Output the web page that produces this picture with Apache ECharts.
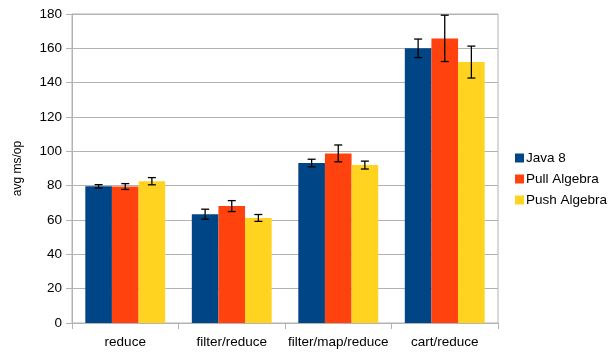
<!DOCTYPE html>
<html>
<head>
<meta charset="utf-8">
<script src="https://cdn.jsdelivr.net/npm/echarts@6/dist/echarts.min.js"></script>
<style>
  html, body { margin: 0; padding: 0; background: #fff; }
  #chart { width: 610px; height: 354px; }
</style>
</head>
<body>
<div id="chart"></div>
<script>
// Benchmark: average time per operation for each stream pipeline
const categories = ['reduce', 'filter/reduce', 'filter/map/reduce', 'cart/reduce'];
const seriesNames = ['Java 8', 'Pull Algebra', 'Push Algebra'];

const java8 = [79.6, 63.4, 93.2, 160.0];
const pullAlgebra = [79.5, 68.1, 98.8, 165.8];
const pushAlgebra = [82.6, 61.2, 92.0, 152.0];

// Half-width of the error intervals
const java8Err = [1.0, 2.9, 2.2, 5.4];
const pullAlgebraErr = [1.7, 3.2, 4.9, 13.5];
const pushAlgebraErr = [2.1, 2.0, 2.3, 9.3];

const colors = ['#004586', '#ff420e', '#ffd320'];
const values = [java8, pullAlgebra, pushAlgebra];
const errors = [java8Err, pullAlgebraErr, pushAlgebraErr];

const font = 'Liberation Sans';
const gridColor = '#b3b3b3';
const catGap = 0.25;               // share of a category left empty
const barShare = (1 - catGap) / 3; // share of a category per bar

const barSeries = values.map((v, i) => ({
  name: seriesNames[i],
  type: 'bar',
  data: v,
  itemStyle: { color: colors[i] },
  barGap: '0%',
  barCategoryGap: (catGap * 100) + '%'
}));

const errorData = [];
values.forEach((v, s) => {
  v.forEach((val, c) => {
    errorData.push([c, val - errors[s][c], val + errors[s][c], s]);
  });
});

const errorSeries = {
  type: 'custom',
  data: errorData,
  z: 10,
  silent: true,
  encode: { x: 0, y: [1, 2] },
  renderItem: function (params, api) {
    const c = api.value(0);
    const s = api.value(3);
    const catW = api.size([1, 0])[0];
    const dx = (s - 1) * barShare * catW;
    const lo = api.coord([c, api.value(1)]);
    const hi = api.coord([c, api.value(2)]);
    const x = lo[0] + dx;
    const half = 4;
    const style = { stroke: '#000', lineWidth: 1.3 };
    return {
      type: 'group',
      children: [
        { type: 'line', shape: { x1: x, y1: hi[1], x2: x, y2: lo[1] }, style: style },
        { type: 'line', shape: { x1: x - half, y1: hi[1], x2: x + half, y2: hi[1] }, style: style },
        { type: 'line', shape: { x1: x - half, y1: lo[1], x2: x + half, y2: lo[1] }, style: style }
      ]
    };
  }
};

const chart = echarts.init(document.getElementById('chart'), null, { renderer: 'canvas' });
chart.setOption({
  animation: false,
  backgroundColor: '#ffffff',
  textStyle: { fontFamily: font },
  grid: {
    left: 72, right: 112, top: 14, bottom: 31,
    show: true, borderColor: gridColor, borderWidth: 1
  },
  legend: {
    orient: 'vertical',
    left: 510,
    top: 146,
    itemWidth: 9,
    itemHeight: 9,
    itemGap: 7,
    icon: 'rect',
    data: seriesNames,
    textStyle: { fontFamily: font, fontSize: 13.5, color: '#000', padding: [0, 0, 0, -3] }
  },
  xAxis: {
    type: 'category',
    data: categories,
    axisLine: { lineStyle: { color: gridColor } },
    axisTick: { show: true, length: 6, lineStyle: { color: gridColor } },
    axisLabel: { interval: 0, fontFamily: font, fontSize: 13.5, color: '#000', margin: 12 },
    splitLine: { show: false }
  },
  yAxis: {
    type: 'value',
    min: 0, max: 180, interval: 20,
    name: 'avg ms/op',
    nameLocation: 'middle',
    nameGap: 48,
    nameRotate: 90,
    nameTextStyle: { fontFamily: font, fontSize: 12, color: '#000' },
    axisLine: { show: true, lineStyle: { color: gridColor } },
    axisTick: { show: true, length: 6, lineStyle: { color: gridColor } },
    axisLabel: { fontFamily: font, fontSize: 13.5, color: '#000', margin: 10 },
    splitLine: { lineStyle: { color: gridColor } }
  },
  series: barSeries.concat([errorSeries])
});
</script>
</body>
</html>
